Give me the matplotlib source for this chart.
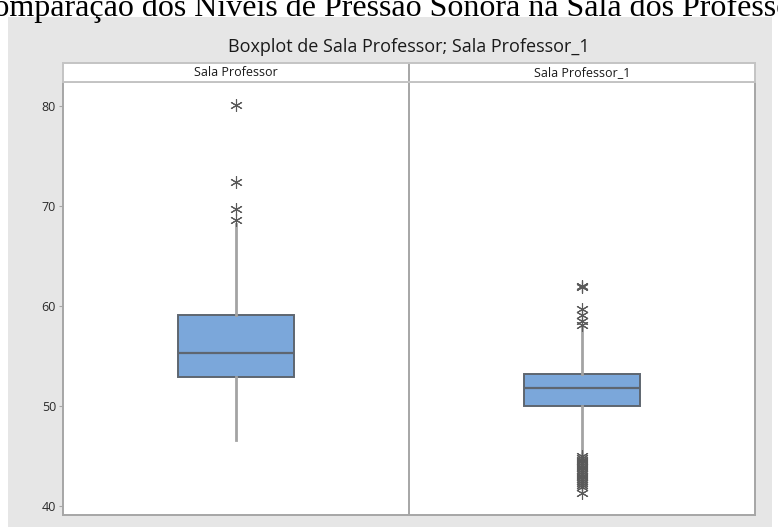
import matplotlib
matplotlib.use("Agg")
import matplotlib.pyplot as plt
from matplotlib.patches import Rectangle

# Summary statistics for each room (dB)
groups = ["Sala Professor", "Sala Professor_1"]
q1 = [52.84, 49.97]
median = [55.24, 51.80]
q3 = [59.04, 53.14]
whisker_low = [46.57, 45.25]
whisker_high = [68.20, 57.90]
outliers = [
    [68.6, 69.7, 72.4, 80.1],
    [61.9, 62.0, 59.7, 59.1, 58.5, 58.1,
     45.0, 44.8, 44.6, 44.5, 44.3, 44.1, 43.9, 43.8, 43.6, 43.4,
     43.2, 43.0, 42.9, 42.7, 42.5, 42.3, 42.1, 41.9, 41.3],
]
y_ticks = [40, 50, 60, 70, 80]

W, H = 778, 527
fig = plt.figure(figsize=(W / 100, H / 100), dpi=100, facecolor="white")

def fx(px):
    return px / W

def fy(py):
    return 1 - py / H

panel_grey = "#e6e6e6"
frame_grey = "#a6a6a6"

# grey graph region, drawn on a background axes behind everything else
bg = fig.add_axes([0, 0, 1, 1], zorder=-10)
bg.set_xlim(0, W)
bg.set_ylim(H, 0)
bg.axis("off")
bg.add_patch(Rectangle((8, 17), 764, H - 17, facecolor=panel_grey, edgecolor="none"))

# heading text above the graph
bg.text(401, 16, "Comparação dos Níveis de Pressão Sonora na Sala dos Professores",
        ha="center", va="baseline", fontsize=23, family="Liberation Serif",
        color="black")

bg.text(409, 47, "Boxplot de Sala Professor; Sala Professor_1",
        ha="center", va="center", fontsize=13, family="Open Sans", color="#1a1a1a")

left, right, top, bottom = 63, 755, 82, 515
ax = fig.add_axes([fx(left), fy(bottom), fx(right) - fx(left), fy(top) - fy(bottom)])
ax.set_facecolor("white")

stats = []
for i, name in enumerate(groups):
    stats.append(dict(label=name, q1=q1[i], med=median[i], q3=q3[i],
                      whislo=whisker_low[i], whishi=whisker_high[i],
                      fliers=outliers[i]))

ax.bxp(stats, positions=[1, 2], widths=0.333, patch_artist=True, showcaps=False,
       boxprops=dict(facecolor="#7ba7da", edgecolor="#5e6670", linewidth=1.4),
       medianprops=dict(color="#5e6670", linewidth=1.6),
       whiskerprops=dict(color="#a3a3a3", linewidth=2.0),
       flierprops=dict(marker=(6, 2, 0), markersize=9, markeredgecolor="#5a5a5a",
                       markeredgewidth=0.8, linestyle="none"))

ax.set_xlim(0.5, 2.5)
ax.set_ylim(39.07, 82.37)
ax.axvline(1.5, color=frame_grey, linewidth=1.4)
ax.set_xticks([])
ax.set_yticks(y_ticks)
ax.set_yticklabels([str(t) for t in y_ticks], family="Open Sans", fontsize=9,
                   color="#2a2a2a")
ax.tick_params(axis="y", length=3, width=0.8, color=frame_grey, pad=2)
for s in ax.spines.values():
    s.set_color(frame_grey)
    s.set_linewidth(1.4)

# panel strip with group names
strip = fig.add_axes([fx(left), fy(top), fx(right) - fx(left), fy(62.5) - fy(top)])
strip.set_facecolor("white")
strip.set_xlim(0.5, 2.5)
strip.set_ylim(0, 1)
strip.axvline(1.5, color=frame_grey, linewidth=1.4)
strip.set_xticks([])
strip.set_yticks([])
for s in strip.spines.values():
    s.set_color("#c4c4c4")
    s.set_linewidth(1.4)
for i, name in enumerate(groups):
    strip.text(i + 1, 0.5, name, ha="center", va="center", fontsize=9,
               family="Open Sans", color="#1a1a1a")

fig.savefig("out.png", dpi=100, facecolor="white")
